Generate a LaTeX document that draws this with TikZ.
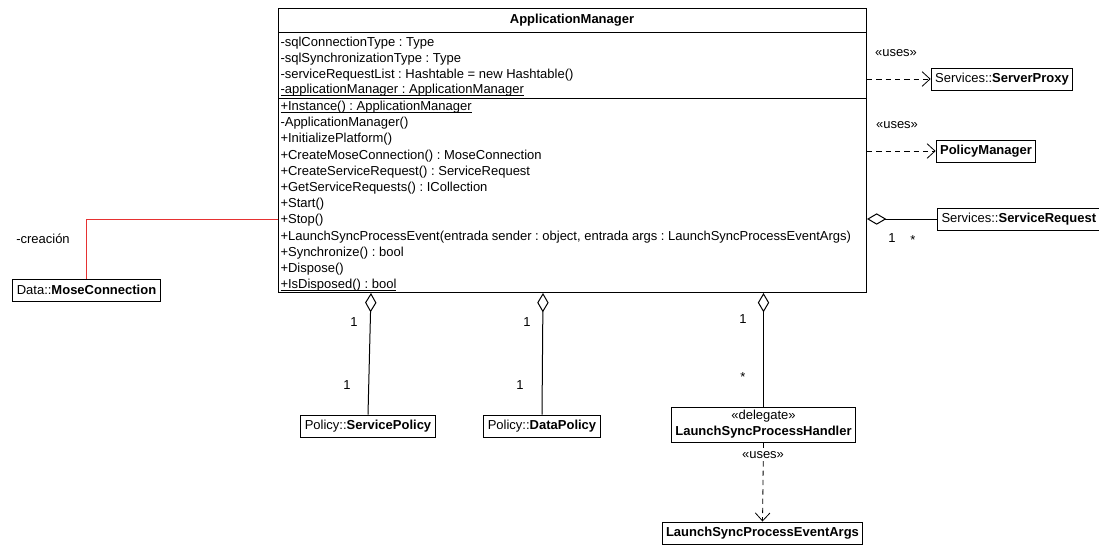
\documentclass[tikz,border=0pt]{standalone}
\usepackage{fontspec}
\setmainfont{Liberation Sans}
\usetikzlibrary{arrows.meta}
\frenchspacing
\newcommand\umlfont{\fontsize{9.75}{12}\selectfont}
% static members are underlined just below the baseline
\newcommand\staticmember[1]{\setbox0=\hbox{#1}\rlap{\rule[-1.4pt]{\wd0}{0.5pt}}\box0}
\definecolor{creationred}{RGB}{230,50,50}
\begin{document}
\begin{tikzpicture}[x=0.75pt, y=-0.75pt, font=\umlfont, line width=0.75pt,
  cls/.style={draw, fill=white, inner xsep=3pt, inner ysep=0pt, minimum height=16.5pt},
  member/.style={anchor=base west, inner sep=0pt},
  uses/.style={line width=0.6pt, dash pattern=on 4pt off 3pt, -{Straight Barb[length=6pt,width=11pt]}},
  agg/.style={{Diamond[open,length=14.5pt,width=8.5pt]}-},
  mult/.style={inner sep=0pt},
  stereo/.style={inner sep=1pt}]
\useasboundingbox (0,0) rectangle (1099,544);

% ApplicationManager class box with its three compartments
\node[draw, inner sep=0pt, minimum width=441pt, minimum height=213pt, anchor=north west] (am) at (278,8) {};
\draw (am.west |- 0,32) -- (am.east |- 0,32);
\draw (am.west |- 0,98) -- (am.east |- 0,98);
\node[font=\umlfont\bfseries] (amtitle) at (572,20) {ApplicationManager};

\foreach \t [count=\i from 0] in {
  {-sqlConnectionType : Type},
  {-sqlSynchronizationType : Type},
  {-serviceRequestList : Hashtable = new Hashtable()},
  {\staticmember{-applicationManager : ApplicationManager}}}
  \node[member] (attr\i) at (280,46.5+15.8*\i) {\t};

\foreach \t [count=\i from 0] in {
  {\staticmember{+Instance() : ApplicationManager}},
  {-ApplicationManager()},
  {+InitializePlatform()},
  {+CreateMoseConnection() : MoseConnection},
  {+CreateServiceRequest() : ServiceRequest},
  {+GetServiceRequests() : ICollection},
  {+Start()},
  {+Stop()},
  {+LaunchSyncProcessEvent(entrada sender : object, entrada args : LaunchSyncProcessEventArgs)},
  {+Synchronize() : bool},
  {+Dispose()},
  {\staticmember{+IsDisposed() : bool}}}
  \node[member] (meth\i) at (280,110.5+16.2*\i) {\t};

% Classes on the right
\node[cls] (proxy) at (1002,79) {Services::\textbf{ServerProxy}};
\node[cls] (polmgr) at (986,151) {\textbf{PolicyManager}};
\node[cls, anchor=west] (srvreq) at (937,219) {Services::\textbf{ServiceRequest}};

\draw[uses] (am.east |- proxy) -- (proxy.west);
\node[stereo] (uses1) at (896,53) {«uses»};
\draw[uses] (am.east |- polmgr) -- (polmgr.west);
\node[stereo] (uses2) at (897,125) {«uses»};
\draw[agg] (am.east |- srvreq) -- (srvreq.west);
\node[mult] (srvone) at (892,238) {1};
\node[mult] (srvmany) at (913,240) {*};

% Creation link on the left
\node[cls] (mose) at (86.5,290) {Data::\textbf{MoseConnection}};
\draw[creationred] (am.west |- 0,219) -| (mose.north);
\node[stereo] (creat) at (43,239) {-creación};

% Classes below
\node[cls] (svcpol) at (368,426) {Policy::\textbf{ServicePolicy}};
\node[cls] (datapol) at (542,426) {Policy::\textbf{DataPolicy}};
\node[cls, align=center, minimum height=26.25pt] (handler) at (763.5,424.5)
  {«delegate»\\\textbf{LaunchSyncProcessHandler}};
\node[cls] (evargs) at (762.5,533) {\textbf{LaunchSyncProcessEventArgs}};

\draw[agg] (371,0 |- am.south) -- (svcpol.north);
\node[mult] (svcone) at (354,322) {1};
\node[mult] (svctwo) at (347,385) {1};

\draw[agg] (543,0 |- am.south) -- (datapol.north);
\node[mult] (dataone) at (527,322) {1};
\node[mult] (datatwo) at (520,385) {1};

\draw[agg] (763.5,0 |- am.south) -- (handler.north);
\node[mult] (handone) at (743,319) {1};
\node[mult] (handmany) at (743,377) {*};

\draw[uses] (handler.south) -- (evargs.north);
\node[stereo, fill=white] (uses3) at (763,455) {«uses»};
\end{tikzpicture}
\end{document}
